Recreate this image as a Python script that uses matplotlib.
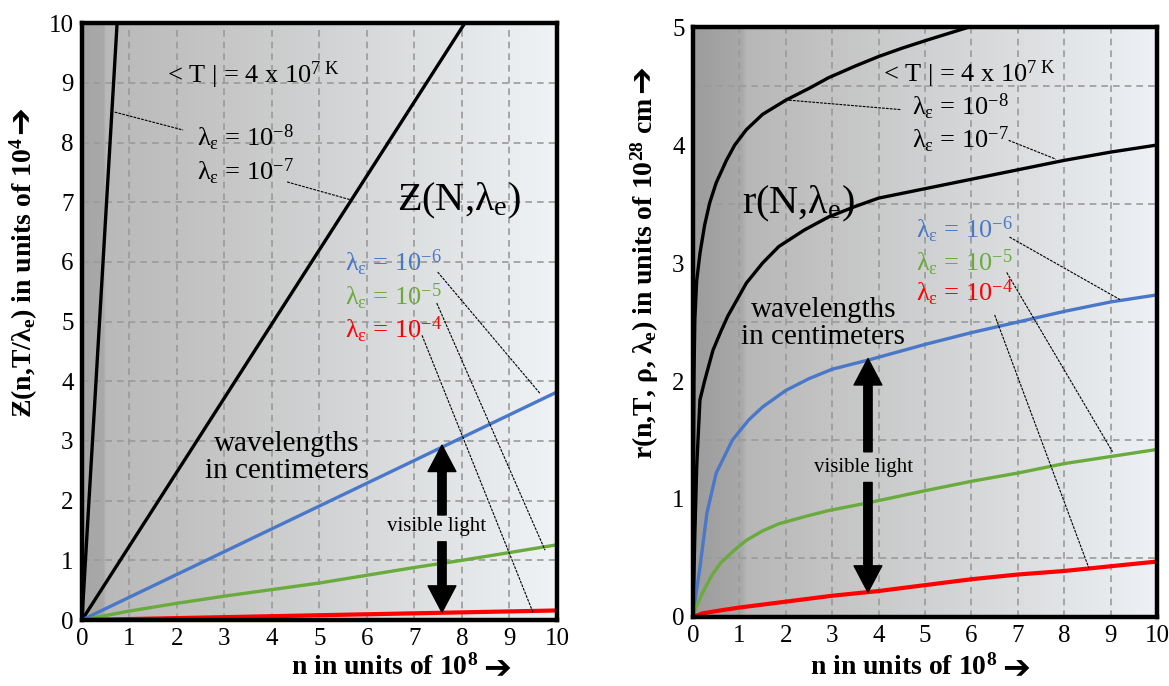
import matplotlib
matplotlib.use('Agg')
import matplotlib.pyplot as plt
import numpy as np

plt.rcParams['font.family'] = ['Liberation Serif', 'DejaVu Serif', 'DejaVu Sans']
plt.rcParams['mathtext.fontset'] = 'custom'
plt.rcParams['mathtext.rm'] = 'Liberation Serif'
plt.rcParams['mathtext.it'] = 'Liberation Serif:italic'
plt.rcParams['mathtext.bf'] = 'Liberation Serif:bold'

# ---- left panel: Z(n, T/lambda_e), units of 10^4 ----
z_n8 = [0, 0.74]
z_8 = [0, 10]
z_n7 = [0, 8.06]
z_7 = [0, 10]
z_n6 = [0, 10]
z_6 = [0, 3.82]
z_n5 = [0, 1, 2, 3, 4, 5, 6, 7, 8, 9, 10]
z_5 = [0, 0.15, 0.28, 0.40, 0.51, 0.62, 0.75, 0.88, 1.0, 1.13, 1.26]
z_n4 = [0, 10]
z_4 = [0, 0.16]

# ---- right panel: r(n, T, rho, lambda_e), units of 10^28 cm ----
r_n8 = [0, 0.005, 0.02, 0.04, 0.08, 0.15, 0.25, 0.36, 0.5, 0.72, 0.9, 1.15, 1.5, 2.0, 2.5, 2.92, 3.5, 4.0, 4.5, 5.05, 5.95]
r_8 = [0, 1.0, 2.0, 2.52, 2.85, 3.08, 3.32, 3.51, 3.68, 3.87, 4.0, 4.13, 4.26, 4.38, 4.48, 4.57, 4.67, 4.75, 4.82, 4.89, 5.0]
r_n7 = [0, 0.04, 0.08, 0.15, 0.25, 0.43, 0.6, 0.75, 1.15, 1.5, 1.85, 2.4, 2.92, 3.5, 4, 5, 6, 7, 8, 9, 10]
r_7 = [0, 0.7, 1.27, 1.84, 2.0, 2.26, 2.42, 2.55, 2.83, 3.0, 3.14, 3.28, 3.39, 3.48, 3.55, 3.63, 3.71, 3.79, 3.87, 3.94, 4.0]
r_n6 = [0, 0.05, 0.15, 0.3, 0.5, 0.85, 1.2, 1.5, 2.0, 2.5, 3.0, 3.8, 5, 6, 7, 8, 9, 10]
r_6 = [0, 0.15, 0.42, 0.88, 1.22, 1.5, 1.67, 1.78, 1.92, 2.02, 2.1, 2.18, 2.31, 2.41, 2.5, 2.59, 2.67, 2.73]
r_n5 = [0, 0.05, 0.2, 0.4, 0.6, 0.9, 1.15, 1.5, 1.85, 2.4, 2.9, 3.8, 5, 6, 7, 8, 9, 10]
r_5 = [0, 0.07, 0.2, 0.35, 0.46, 0.57, 0.65, 0.73, 0.79, 0.85, 0.9, 0.97, 1.07, 1.15, 1.22, 1.3, 1.36, 1.42]
r_n4 = [0, 0.2, 0.5, 1, 2, 3, 4, 5, 6, 7, 8, 9, 10]
r_4 = [0, 0.03, 0.05, 0.08, 0.13, 0.18, 0.22, 0.27, 0.32, 0.36, 0.39, 0.43, 0.47]

x_ticks = list(range(0, 11))
zl_ticks = list(range(0, 11))
rl_ticks = list(range(0, 6))

BLUE = '#4a78c8'
GREEN = '#6aab3d'
RED = '#ff0000'
W, H = 1169, 686


def background(ax, ymax, stops_x, stops_c):
    xs = np.linspace(0, 10, 600)
    cols = np.array([matplotlib.colors.to_rgb(c) for c in stops_c])
    img = np.stack([np.interp(xs, stops_x, cols[:, k]) for k in range(3)], axis=-1)
    ax.imshow(img[None, :, :], extent=(0, 10, 0, ymax), aspect='auto', zorder=0, interpolation='bilinear')


def frame(ax, ymax, yticks):
    ax.set_xlim(0, 10)
    ax.set_ylim(0, ymax)
    ax.set_xticks(x_ticks)
    ax.set_yticks(yticks)
    ax.tick_params(length=0, labelsize=18, pad=6)
    for s in ax.spines.values():
        s.set_linewidth(3.2)
        s.set_zorder(10)
    ax.grid(True, color='#9a9a9a', ls=(0, (4, 3)), lw=1.2, zorder=1)
    ax.set_axisbelow(False)


def pointer(ax, p0, p1):
    ax.plot([p0[0], p1[0]], [p0[1], p1[1]], color='k', lw=0.8, ls=(0, (2.5, 1)), zorder=4)


def vis_arrow(ax, x, tip_up, tail_up, tail_dn, tip_dn):
    style = 'simple,head_length=0.95,head_width=1.0,tail_width=0.3'
    for tail, tip in [(tail_up, tip_up), (tail_dn, tip_dn)]:
        ax.annotate('', xy=(x, tip), xytext=(x, tail),
                    arrowprops=dict(arrowstyle=style, fc='k', ec='k', mutation_scale=20,
                                    shrinkA=0, shrinkB=0), zorder=6)


def lam(p):
    return r'λ$_\mathregular{ε}$ = 10$^{\mathregular{−%d}}$' % p


def axis_title(x, y, label, rot):
    # bold serif label followed by a heavy arrow glyph (mathtext has no ➔)
    t = fig.text(x / W, 1 - y / H, label, fontsize=20, fontweight='bold',
                 ha='center', va='center', rotation=rot)
    fig.canvas.draw()
    bb = t.get_window_extent()
    if rot == 0:
        fig.text((bb.x1 + 5) / W, (bb.y0 + bb.y1) / 2 / H - 0.003, '➔', family='DejaVu Sans',
                 fontsize=24, fontweight='bold', ha='left', va='center')
    else:
        fig.text((bb.x0 + bb.x1) / 2 / W - 0.003, (bb.y1 + 4) / H, '➔', family='DejaVu Sans',
                 fontsize=24, fontweight='bold', ha='center', va='bottom', rotation=90)


TEMP = r'< T | = 4 x 10$^{\mathregular{7\ K}}$'

fig = plt.figure(figsize=(11.69, 6.86), dpi=100)
axL = fig.add_axes([0.0701, 0.0962, 0.4063, 0.870])
axR = fig.add_axes([0.5928, 0.1006, 0.397, 0.860])

# left
background(axL, 10, [0, 0.45, 0.5, 3, 6, 10],
           ['#a6a6a6', '#a9a9a9', '#b9b9b9', '#c6c6c6', '#d6d8d9', '#f0f3f6'])
frame(axL, 10, zl_ticks)
axL.plot(z_n8, z_8, color='k', lw=2.4, zorder=3, solid_capstyle='butt')
axL.plot(z_n7, z_7, color='k', lw=2.4, zorder=3, solid_capstyle='butt')
axL.plot(z_n6, z_6, color=BLUE, lw=2.4, zorder=3)
axL.plot(z_n5, z_5, color=GREEN, lw=2.4, zorder=3)
axL.plot(z_n4, z_4, color=RED, lw=3, zorder=3)

axL.text(1.79, 9.13, TEMP, fontsize=19, va='center')
axL.text(2.42, 8.07, lam(8), fontsize=19, va='center')
axL.text(2.42, 7.5, lam(7), fontsize=19, va='center')
axL.text(6.63, 7.03, r'Ƶ(N,λ$_\mathregular{e}$)', fontsize=29, va='center')
axL.text(5.54, 5.98, lam(6), fontsize=19, va='center', color=BLUE)
axL.text(5.54, 5.41, lam(5), fontsize=19, va='center', color=GREEN)
axL.text(5.54, 4.86, lam(4), fontsize=19, va='center', color=RED)
axL.text(4.32, 2.73, 'wavelengths\nin centimeters', fontsize=21, ha='center', va='center', linespacing=1.05)
axL.text(7.47, 1.56, 'visible light', fontsize=15, ha='center', va='center', zorder=7)
pointer(axL, (0.69, 8.51), (2.13, 8.21))
pointer(axL, (4.32, 7.34), (5.66, 7.04))
pointer(axL, (7.49, 5.83), (9.64, 3.8))
pointer(axL, (7.47, 5.31), (9.75, 1.17))
pointer(axL, (7.16, 4.77), (9.5, 0.12))
vis_arrow(axL, 7.58, 2.93, 1.76, 1.31, 0.13)

# right
background(axR, 5, [0, 1.05, 1.15, 3, 6, 10],
           ['#9c9c9c', '#a9a9a9', '#b7b7b7', '#c4c4c4', '#d5d7d8', '#eef1f5'])
frame(axR, 5, rl_ticks)
axR.set_yticks(np.arange(0.5, 5, 0.5), minor=True)
axR.tick_params(which='minor', length=0)
axR.grid(False, axis='y', which='major')
axR.grid(True, axis='y', which='minor', color='#9a9a9a', ls=(0, (4, 3)), lw=1.2)
axR.plot(r_n8, r_8, color='k', lw=2.4, zorder=3)
axR.plot(r_n7, r_7, color='k', lw=2.4, zorder=3)
axR.plot(r_n6, r_6, color=BLUE, lw=2.4, zorder=3)
axR.plot(r_n5, r_5, color=GREEN, lw=2.4, zorder=3)
axR.plot(r_n4, r_4, color=RED, lw=3, zorder=3)

axR.text(4.1, 4.6, TEMP, fontsize=19, va='center')
axR.text(4.73, 4.32, lam(8), fontsize=19, va='center')
axR.text(4.73, 4.04, lam(7), fontsize=19, va='center')
axR.text(1.05, 3.5, r'r(N,λ$_\mathregular{e}$)', fontsize=29, va='center')
axR.text(4.8, 3.28, lam(6), fontsize=19, va='center', color=BLUE)
axR.text(4.8, 3.0, lam(5), fontsize=19, va='center', color=GREEN)
axR.text(4.8, 2.75, lam(4), fontsize=19, va='center', color=RED)
axR.text(2.81, 2.49, 'wavelengths\nin centimeters', fontsize=21, ha='center', va='center', linespacing=1.05)
axR.text(3.68, 1.27, 'visible light', fontsize=15, ha='center', va='center', zorder=7)
pointer(axR, (2.07, 4.38), (4.48, 4.30))
pointer(axR, (6.8, 4.04), (7.82, 3.88))
pointer(axR, (6.82, 3.22), (9.2, 2.69))
pointer(axR, (6.76, 2.92), (9.04, 1.40))
pointer(axR, (6.5, 2.56), (8.53, 0.415))
vis_arrow(axR, 3.77, 2.19, 1.40, 1.14, 0.21)

# axis titles
axis_title(385, 667, r'n in units of 10$^\mathbf{8}$', 0)
axis_title(904, 667, r'n in units of 10$^\mathbf{8}$', 0)
axis_title(24, 278, r'Ƶ(n,T/λ$_\mathbf{e}$) in units of 10$^\mathbf{4}$', 90)
axis_title(645, 278, r'r(n,T, ρ, λ$_\mathbf{e}$) in units of 10$^\mathbf{28}$ cm', 90)

fig.savefig('out.png', dpi=100, facecolor='white')
